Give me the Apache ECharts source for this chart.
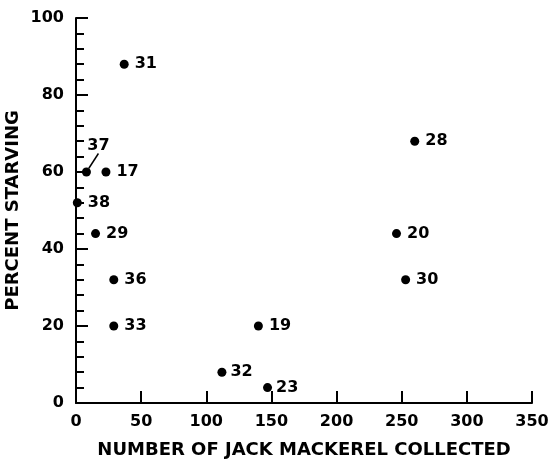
<!DOCTYPE html>
<html>
<head>
<meta charset="utf-8">
<script src="https://cdn.jsdelivr.net/npm/echarts@6/dist/echarts.min.js"></script>
<style>html,body{margin:0;padding:0;background:#fff;}#c{width:548px;height:461px;}</style>
</head>
<body>
<div id="c"></div>
<script>
// Data
const stations = ['31', '37', '17', '38', '29', '36', '33', '19', '32', '23', '28', '20', '30'];
const jackMackerel = [37, 8, 23, 1, 15, 29, 29, 140, 112, 147, 260, 246, 253];
const percentStarving = [88, 60, 60, 52, 44, 32, 20, 20, 8, 4, 68, 44, 32];
const xTicks = [0, 50, 100, 150, 200, 250, 300, 350];
const yTicks = [0, 20, 40, 60, 80, 100];

const FONT = 'DejaVu Sans';
const labelStyle = {
  '37': { position: 'top', distance: 4 },
  '32': { position: 'right', distance: 4, offset: [0, -7] },
  '23': { position: 'right', distance: 4, offset: [0, -12] }
};
const layoutShift = { '37': { dx: 12, dy: -10 } };

const data = stations.map((s, i) => {
  const item = { value: [jackMackerel[i], percentStarving[i]], name: s };
  if (labelStyle[s]) item.label = labelStyle[s];
  if (s === '37') item.labelLine = { show: true, lineStyle: { color: '#000', width: 1.5 } };
  return item;
});

const chart = echarts.init(document.getElementById('c'));
chart.setOption({
  animation: false,
  backgroundColor: '#fff',
  grid: { left: 76, right: 16, top: 18, bottom: 58, containLabel: false, outerBoundsMode: 'none' },
  xAxis: {
    type: 'value', min: xTicks[0], max: xTicks[xTicks.length - 1], interval: 50,
    name: 'NUMBER OF JACK MACKEREL COLLECTED', nameLocation: 'middle', nameGap: 38,
    nameMoveOverlap: false,
    nameTextStyle: { fontFamily: FONT, fontWeight: 'bold', fontSize: 18, color: '#000' },
    axisLine: { show: true, lineStyle: { color: '#000', width: 2 } },
    axisTick: { show: true, inside: true, length: 12, lineStyle: { color: '#000', width: 2 } },
    axisLabel: { fontFamily: FONT, fontWeight: 'bold', fontSize: 16, color: '#000', margin: 11 },
    splitLine: { show: false }
  },
  yAxis: {
    type: 'value', min: yTicks[0], max: yTicks[yTicks.length - 1], interval: 20,
    name: 'PERCENT STARVING', nameLocation: 'middle', nameGap: 54,
    nameMoveOverlap: false,
    nameTextStyle: { fontFamily: FONT, fontWeight: 'bold', fontSize: 18, color: '#000' },
    axisLine: { show: true, lineStyle: { color: '#000', width: 2 } },
    axisTick: { show: true, inside: true, length: 12, lineStyle: { color: '#000', width: 2 } },
    minorTick: { show: true, splitNumber: 5, length: 8, lineStyle: { color: '#000', width: 2 } },
    axisLabel: { fontFamily: FONT, fontWeight: 'bold', fontSize: 16, color: '#000', margin: 12 },
    splitLine: { show: false }
  },
  series: [{
    type: 'scatter',
    symbol: 'circle',
    symbolSize: 9,
    itemStyle: { color: '#000', opacity: 1 },
    label: {
      show: true, position: 'right', distance: 6,
      formatter: p => p.name,
      fontFamily: FONT, fontWeight: 'bold', fontSize: 16, color: '#000'
    },
    labelLayout: p => {
      const s = stations[p.dataIndex];
      return layoutShift[s] ? layoutShift[s] : {};
    },
    data: data
  }]
});
</script>
</body>
</html>
